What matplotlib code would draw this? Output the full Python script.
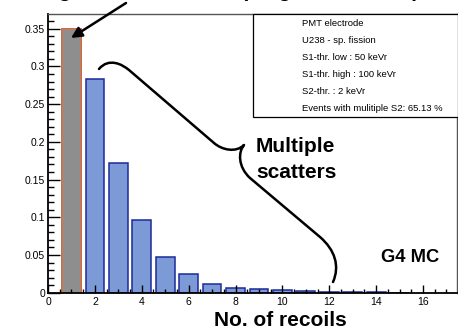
import matplotlib
matplotlib.use("Agg")
import matplotlib.pyplot as plt
from matplotlib.path import Path
from matplotlib.patches import PathPatch
from matplotlib.ticker import MultipleLocator, FuncFormatter

plt.rcParams['font.family'] = ['Liberation Sans', 'DejaVu Sans']

# Normalised distribution of the number of nuclear recoils per event
n_recoils = [1, 2, 3, 4, 5, 6, 7, 8, 9, 10, 11, 12, 13, 14, 15]
fraction = [0.349, 0.283, 0.172, 0.096, 0.047, 0.0244, 0.0115, 0.0062,
            0.0045, 0.0030, 0.0019, 0.0010, 0.0005, 0.0003, 0.0002]
single_bin = [1]
single_value = [0.349]

info_lines = ["PMT electrode",
              "U238 - sp. fission",
              "S1-thr. low : 50 keVr",
              "S1-thr. high : 100 keVr",
              "S2-thr. : 2 keVr",
              "Events with mulitiple S2: 65.13 %"]
x_ticks = [0, 2, 4, 6, 8, 10, 12, 14, 16]

W, H = 458, 328
fig = plt.figure(figsize=(W / 100, H / 100), dpi=100)
ax = fig.add_axes([48 / W, 1 - 292.7 / H, (457 - 48) / W, (292.7 - 14) / H])


def px(x, y):
    """Pixel position (from top-left) to figure fraction."""
    return (x / W, 1 - y / H)


ax.bar(n_recoils, fraction, width=0.8, color='#7b9ad6', edgecolor='#1c2a9c',
       linewidth=1.1, zorder=1)
ax.bar(single_bin, single_value, width=0.84, color='#8e8e8e',
       edgecolor='#e0743a', linewidth=1.1, zorder=1.2)

ax.set_xlim(0, 17.45)
ax.set_ylim(0, 0.3695)
ax.xaxis.set_major_locator(MultipleLocator(2))
ax.xaxis.set_minor_locator(MultipleLocator(0.5))
ax.yaxis.set_major_locator(MultipleLocator(0.05))
ax.yaxis.set_minor_locator(MultipleLocator(0.01))
ax.set_xticks(x_ticks)
ax.yaxis.set_major_formatter(FuncFormatter(lambda v, p: f"{v:g}"))
ax.tick_params(axis='both', which='both', direction='in', top=False,
               right=False, colors='black', labelsize=7.5, width=1.0)
ax.tick_params(axis='y', which='major', length=8.6, pad=2)
ax.tick_params(axis='y', which='minor', length=4.3)
ax.tick_params(axis='x', which='major', length=5.8, pad=3)
ax.tick_params(axis='x', which='minor', length=2.8)

for side in ('left', 'bottom'):
    ax.spines[side].set_linewidth(1.3)
    ax.spines[side].set_color('black')
for side in ('top', 'right'):
    ax.spines[side].set_linewidth(1.0)
    ax.spines[side].set_color('#555555')

# Info box in the upper right corner
x0, y0 = px(253, 117)
x1, y1 = px(457.5, 14)
box = plt.Rectangle((x0, y0), x1 - x0, y1 - y0, transform=fig.transFigure,
                    facecolor='white', edgecolor='black', linewidth=0.9,
                    zorder=5)
fig.add_artist(box)
for i, line in enumerate(info_lines):
    fx, fy = px(302.5, 23.5 + i * 17)
    fig.text(fx, fy, line, fontsize=6.8, ha='left', va='center', zorder=6)

# Axis title and labels
fx, fy = px(280, 325.5)
fig.text(fx, fy, "No. of recoils", fontsize=15, fontweight='bold',
         ha='center', va='baseline')
fx, fy = px(381, 261.5)
fig.text(fx, fy, "G4 MC", fontsize=13.2, fontweight='bold', ha='left',
         va='baseline')
fx, fy = px(256, 151.5)
fig.text(fx, fy, "Multiple", fontsize=15, fontweight='bold', ha='left',
         va='baseline')
fx, fy = px(256, 178)
fig.text(fx, fy, "scatters", fontsize=15, fontweight='bold', ha='left',
         va='baseline')
# Title line running above the top edge of the canvas
fx, fy = px(26, -3)
fig.text(fx, fy, "Single scatter events (single S2 events)", fontsize=15,
         fontweight='bold', ha='left', va='baseline')

# Arrow pointing at the single-recoil bin
ax.annotate('', xy=px(71, 38), xytext=px(126, 3), xycoords='figure fraction',
            textcoords='figure fraction', annotation_clip=False,
            arrowprops=dict(arrowstyle='-|>', lw=1.8, color='black',
                            mutation_scale=16, shrinkA=0, shrinkB=0))

# Curly brace spanning the multiple-recoil bins
verts = [(99, 69), (104, 63), (110, 62), (115, 63),
         (121, 64), (125, 67), (129, 70),
         (214, 143),
         (222, 150), (236, 153), (244, 145),
         (238, 152), (238, 167), (250, 178),
         (320, 237),
         (335, 250), (340, 266), (333, 282)]
codes = [Path.MOVETO, Path.CURVE4, Path.CURVE4, Path.CURVE4,
         Path.CURVE4, Path.CURVE4, Path.CURVE4,
         Path.LINETO,
         Path.CURVE4, Path.CURVE4, Path.CURVE4,
         Path.CURVE4, Path.CURVE4, Path.CURVE4,
         Path.LINETO,
         Path.CURVE4, Path.CURVE4, Path.CURVE4]
brace = Path([px(x, y) for x, y in verts], codes)
fig.add_artist(PathPatch(brace, transform=fig.transFigure, facecolor='none',
                         edgecolor='black', linewidth=1.8, capstyle='round',
                         joinstyle='round', zorder=4))

fig.savefig("out.png", dpi=100)
